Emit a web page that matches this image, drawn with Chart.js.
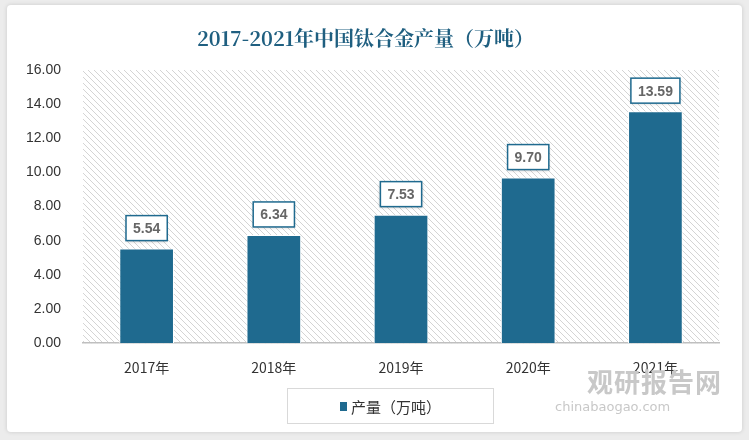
<!DOCTYPE html>
<html lang="zh">
<head>
<meta charset="UTF-8">
<title>钛合金产量</title>
<script src="https://cdn.jsdelivr.net/npm/chart.js"></script>
<style>
  body { margin: 0; background: #ececec; width: 749px; height: 440px; overflow: hidden; font-family: "Noto Sans CJK SC", sans-serif; }
  #card { position: absolute; left: 7px; top: 5px; width: 735px; height: 427px; background: #fff; border-radius: 4px; box-shadow: 0 0 4px rgba(0,0,0,0.15); }
  #wrap { position: absolute; left: 0; top: 0; width: 749px; height: 440px; }
  #legend { position: absolute; left: 287px; top: 388px; width: 205px; height: 34px; border: 1px solid #d9d9d9; display: flex; align-items: center; justify-content: center; font-size: 15px; color: #333; }
  #legend span.sw { display: inline-block; width: 7px; height: 9px; background: #1f6a8f; margin-right: 4px; }
  #wm { position: absolute; left: 545px; top: 362px; color: #c8c8c8; }
  #wm .big { font-size: 26px; font-weight: bold; letter-spacing: 1px; margin-left: 42px; }
  #wm .small { font-size: 13px; font-family: "DejaVu Sans"; margin-left: 10px; }
</style>
</head>
<body>
<div id="card"></div>
<div id="wrap"><canvas id="c" width="749" height="440"></canvas></div>
<div id="legend"><span class="sw"></span>产量（万吨）</div>
<div id="wm"><div class="big">观研报告网</div><div class="small">chinabaogao.com</div></div>
<script>
const categories = ["2017年", "2018年", "2019年", "2020年", "2021年"];
const production = [5.54, 6.34, 7.53, 9.70, 13.59];
const yTicks = [0, 2, 4, 6, 8, 10, 12, 14, 16];

function hatch(ctx) {
  const p = document.createElement("canvas");
  p.width = 6; p.height = 6;
  const g = p.getContext("2d");
  g.fillStyle = "#fff"; g.fillRect(0, 0, 6, 6);
  g.strokeStyle = "#d4d4d4"; g.lineWidth = 1;
  g.beginPath(); g.moveTo(0, 0); g.lineTo(6, 6); g.moveTo(-3, 3); g.lineTo(3, 9); g.moveTo(3, -3); g.lineTo(9, 3); g.stroke();
  return ctx.createPattern(p, "repeat");
}

const bgPlugin = {
  id: "bg",
  beforeDraw(chart) {
    const { ctx, chartArea: a } = chart;
    ctx.save();
    ctx.fillStyle = hatch(ctx);
    ctx.fillRect(a.left, a.top, a.right - a.left, a.bottom - a.top);
    ctx.restore();
  }
};

const labelPlugin = {
  id: "labels",
  afterDatasetsDraw(chart) {
    const ctx = chart.ctx;
    chart.getDatasetMeta(0).data.forEach((bar, i) => {
      const t = production[i].toFixed(2);
      ctx.save();
      ctx.font = "bold 14px 'Liberation Sans', sans-serif";
      const w = ctx.measureText(t).width + 14, h = 25;
      const x = bar.x - w / 2, y = bar.y - h - 8;
      ctx.shadowColor = "rgba(0,0,0,0.25)"; ctx.shadowBlur = 3; ctx.shadowOffsetY = 1;
      ctx.fillStyle = "#fff"; ctx.fillRect(x, y, w, h);
      ctx.shadowColor = "transparent";
      ctx.strokeStyle = "#1f6a8f"; ctx.lineWidth = 1.5; ctx.strokeRect(x, y, w, h);
      ctx.fillStyle = "#666"; ctx.textAlign = "center"; ctx.textBaseline = "middle";
      ctx.fillText(t, bar.x, y + h / 2 + 1);
      ctx.restore();
    });
  }
};

new Chart(document.getElementById("c"), {
  type: "bar",
  data: {
    labels: categories,
    datasets: [{ label: "产量（万吨）", data: production, backgroundColor: "#1f6a8f", borderColor: "#ffffff", borderWidth: { left: 1, right: 1, top: 1 }, categoryPercentage: 1, barPercentage: 0.43 }]
  },
  options: {
    responsive: false,
    animation: false,
    layout: { padding: { left: 12, right: 30, top: 8, bottom: 56 } },
    plugins: {
      legend: { display: false },
      tooltip: { enabled: false },
      title: { display: true, text: "2017-2021年中国钛合金产量（万吨）", color: "#1f5f80", font: { size: 20, weight: "bold", family: "'Noto Serif CJK SC', 'DejaVu Serif', serif" }, padding: { top: 18, bottom: 20 } }
    },
    scales: {
      y: {
        min: 0, max: 16,
        afterBuildTicks(s) { s.ticks = yTicks.map(v => ({ value: v })); },
        ticks: { color: "#333", font: { size: 14, family: "'Liberation Sans', sans-serif" }, padding: 14, callback: v => v.toFixed(2) },
        grid: { display: false },
        border: { display: false }
      },
      x: {
        ticks: { color: "#333", font: { size: 14, family: "'Noto Sans CJK SC'" }, padding: 8 },
        grid: { display: false },
        border: { color: "#bfbfbf", width: 1.5 }
      }
    }
  },
  plugins: [bgPlugin, labelPlugin]
});
</script>
</body>
</html>
